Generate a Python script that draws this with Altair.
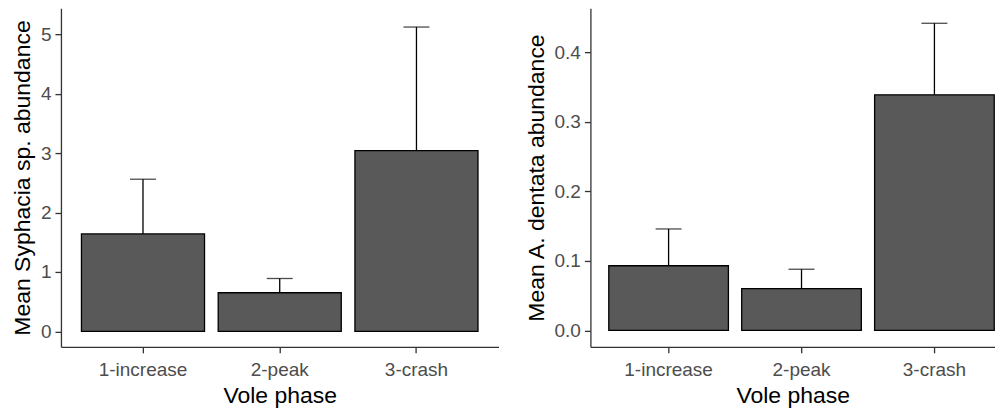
import altair as alt
import pandas as pd

# ---- data ----
phases = ["1-increase", "2-peak", "3-crash"]
syphacia_mean = [1.64, 0.65, 3.04]
syphacia_upper = [2.56, 0.89, 5.12]
dentata_mean = [0.093, 0.060, 0.339]
dentata_upper = [0.146, 0.088, 0.442]

syphacia_ticks = [0, 1, 2, 3, 4, 5]
dentata_ticks = [0.0, 0.1, 0.2, 0.3, 0.4]

FONT = "Liberation Sans"


def panel(mean, upper, ytitle, domain, ticks, fmt, width, pad_outer, align):
    df = pd.DataFrame({"phase": phases, "mean": mean, "upper": upper})
    xscale = alt.Scale(domain=phases, paddingInner=0.1, paddingOuter=pad_outer, align=align)
    x = alt.X("phase:N", scale=xscale, title="Vole phase",
              axis=alt.Axis(labelAngle=0))
    yscale = alt.Scale(domain=domain, nice=False, zero=False)
    y = alt.Y("mean:Q", title=ytitle, scale=yscale,
              axis=alt.Axis(values=ticks, format=fmt))
    base = alt.Chart(df)
    err = base.mark_rule(color="black", strokeWidth=1.3).encode(
        x=x, y=y, y2="upper:Q")
    cap = base.mark_tick(color="black", thickness=1.3, size=26,
                         orient="horizontal").encode(
        x=x, y=alt.Y("upper:Q", title=ytitle, scale=yscale))
    bars = base.mark_bar(color="#595959", stroke="black", strokeWidth=1.3).encode(
        x=x, y=y, y2=alt.datum(0))
    return alt.layer(err, cap, bars).properties(width=width, height=339)


left = panel(syphacia_mean, syphacia_upper, "Mean Syphacia sp. abundance",
             [-0.26, 5.437], syphacia_ticks, "d", 438, 0.15, 0.5)
right = panel(dentata_mean, dentata_upper, "Mean A. dentata abundance",
              [-0.0237, 0.4637], dentata_ticks, ".1f", 405, 0.072, 0.96)

chart = alt.hconcat(left, right, spacing=26).properties(
    padding={"left": 3, "top": 0, "right": 0, "bottom": 0}
).resolve_scale(y="independent").configure_view(stroke=None).configure_axis(
    grid=False,
    labelFont=FONT, labelFontSize=19, labelColor="#4D4D4D", labelPadding=4,
    titleFont=FONT, titleFontSize=23, titleColor="black", titleFontWeight="normal",
    titlePadding=6,
    domainColor="#333333", domainWidth=1.3,
    tickColor="#333333", tickWidth=1.3, tickSize=6,
).configure_axisX(labelPadding=8, titlePadding=5)

chart.save("out.html", embed_options={"renderer": "svg", "actions": False})
